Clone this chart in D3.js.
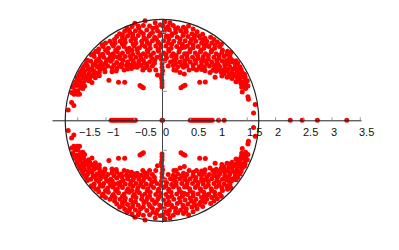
<!DOCTYPE html>
<html>
<head>
<meta charset="utf-8">
<script src="https://cdn.jsdelivr.net/npm/d3@7"></script>
<style>
  html, body { margin: 0; padding: 0; background: #fff; }
  svg { display: block; }
  text { font-family: "Liberation Sans", Arial, sans-serif; font-size: 11px; fill: #111; }
</style>
</head>
<body>
<svg id="chart" width="399" height="250"></svg>
<script>
const xTicks = [-1.5, -1, -0.5, 0.5, 1, 1.5, 2, 2.5, 3, 3.5];
const xLabelValues = [-1.5, -1, -0.5, 0, 0.5, 1, 1.5, 2, 2.5, 3, 3.5];
const yTicks = [-1.5, -1, -0.5, 0.5, 1, 1.5];
const circleRadius = 1.713;

// eigenvalues on the real line
const realPoints = [
  -0.9, -0.87, -0.84, -0.81, -0.78, -0.74, -0.71, -0.68, -0.65, -0.62, -0.58, -0.55, -0.52, -0.49, -0.47,
  0, 0.01, 0.5, 0.53, 0.56, 0.59, 0.62, 0.65, 0.68, 0.71, 0.74, 0.77, 0.8, 0.83, 0.86, 0.89, 1.0, 1.1,
  2.27, 2.48, 2.75, 3.27
];

// upper half plane, the lower half is the conjugate of these
const complexPoints = [
  [-0.48,1.645],[-0.30,1.69],[-0.12,1.655],[-0.03,1.62],[0.05,1.67],[0.14,1.655],
  [-0.62,1.56],[-0.53,1.59],[-0.41,1.57],[-0.33,1.61],[-0.22,1.60],[-0.10,1.58],[0.02,1.6],[0.11,1.59],[0.2,1.61],[0.28,1.57],[0.38,1.58],[0.47,1.6],[0.55,1.55],
  [-0.75,1.47],[-0.66,1.51],[-0.57,1.49],[-0.47,1.52],[-0.38,1.50],[-0.27,1.53],[-0.17,1.49],[-0.08,1.52],[0.04,1.5],[0.13,1.53],[0.24,1.49],[0.33,1.52],[0.43,1.5],[0.53,1.47],[0.62,1.5],[0.72,1.46],
  [-0.8,1.42],[-0.7,1.4],[-0.61,1.43],[-0.52,1.41],[-0.42,1.44],[-0.32,1.4],[-0.23,1.43],[-0.13,1.41],[-0.04,1.44],[0.07,1.42],[0.17,1.44],[0.27,1.41],[0.37,1.44],[0.46,1.42],[0.57,1.4],[0.66,1.43],[0.76,1.39],[0.86,1.41],
  [-1.0,1.31],[-0.92,1.34],[-0.83,1.31],[-0.74,1.34],[-0.65,1.32],[-0.55,1.35],[-0.46,1.31],[-0.36,1.34],[-0.26,1.32],[-0.17,1.35],[-0.07,1.33],[0.03,1.35],[0.11,1.31],[0.21,1.34],[0.31,1.32],[0.41,1.35],[0.5,1.32],[0.6,1.34],[0.7,1.31],[0.79,1.34],[0.88,1.31],[0.98,1.33],
  [-1.12,1.21],[-1.04,1.25],[-0.95,1.22],[-0.86,1.26],[-0.77,1.23],[-0.67,1.25],[-0.58,1.22],[-0.49,1.26],[-0.4,1.23],[-0.3,1.25],[-0.21,1.22],[-0.11,1.26],[-0.02,1.24],[0.07,1.26],[0.16,1.22],[0.26,1.25],[0.35,1.23],[0.45,1.26],[0.55,1.23],[0.64,1.25],[0.74,1.22],[0.83,1.25],[0.93,1.22],[1.02,1.25],
  [-1.21,1.13],[-1.13,1.16],[-1.05,1.12],[-0.96,1.15],[-0.87,1.13],[-0.79,1.16],[-0.7,1.14],[-0.6,1.16],[-0.52,1.12],[-0.43,1.15],[-0.33,1.13],[-0.25,1.16],[-0.15,1.14],[-0.06,1.17],[0.03,1.14],[0.12,1.17],[0.2,1.13],[0.3,1.16],[0.4,1.13],[0.49,1.16],[0.59,1.14],[0.68,1.16],[0.77,1.13],[0.87,1.16],[0.96,1.13],[1.06,1.15],[1.15,1.12],[1.22,1.15],
  [-1.2,1.08],[-1.12,1.04],[-1.03,1.07],[-0.93,1.05],[-0.84,1.08],[-0.74,1.05],[-0.65,1.08],[-0.55,1.04],[-0.46,1.07],[-0.37,1.05],[-0.28,1.08],[-0.18,1.05],[-0.09,1.07],[0.08,1.06],[0.17,1.09],[0.25,1.05],[0.35,1.07],[0.45,1.04],[0.54,1.07],[0.64,1.05],[0.73,1.08],[0.82,1.04],[0.92,1.07],[1.01,1.05],[1.1,1.08],[1.19,1.04],
  [-1.34,0.97],[-1.26,1.0],[-1.18,0.96],[-1.09,0.99],[-1.0,0.97],[-0.91,1.0],[-0.8,0.98],[-0.71,0.96],[-0.61,0.99],[-0.5,0.97],[-0.41,1.0],[-0.31,0.97],[-0.22,0.99],[-0.135,0.966],[0.11,0.92],[0.15,0.99],[0.24,0.97],[0.32,0.99],[0.41,0.96],[0.5,0.99],[0.6,0.97],[0.7,0.99],[0.79,0.96],[0.88,0.99],[0.98,0.97],[1.07,1.0],[1.16,0.96],[1.25,0.99],[1.34,0.97],
  [-1.4,0.89],[-1.32,0.92],[-1.24,0.88],[-1.15,0.91],[-1.06,0.89],[-0.96,0.92],[-0.885,0.89],[-0.72,0.91],[-0.63,0.93],[-0.54,0.88],[-0.44,0.9],[-0.37,0.93],[-0.26,0.91],[0.21,0.853],[0.28,0.91],[0.38,0.9],[0.48,0.853],[0.555,0.88],[0.66,0.91],[0.75,0.9],[0.84,0.92],[0.93,0.89],[1.02,0.91],[1.11,0.88],[1.2,0.91],[1.29,0.89],[1.38,0.91],
  [-1.45,0.81],[-1.37,0.84],[-1.29,0.8],[-1.2,0.83],[-1.11,0.81],[-1.01,0.825],[-0.885,0.825],[-0.81,0.836],[-0.67,0.853],[-0.61,0.87],[-0.34,0.853],[-0.22,0.853],[-0.11,0.853],[0.32,0.81],[0.395,0.785],[0.61,0.853],[0.76,0.84],[0.85,0.81],[0.96,0.83],[1.05,0.81],[1.14,0.84],[1.23,0.8],[1.33,0.83],[1.42,0.81],
  [-1.5,0.73],[-1.42,0.76],[-1.34,0.72],[-1.25,0.75],[-1.18,0.72],[-1.11,0.757],[-0.08,0.77],[0.94,0.73],[1.06,0.75],[1.15,0.73],[1.2,0.74],[1.3,0.75],[1.38,0.73],[1.47,0.74],
  [-1.53,0.65],[-1.46,0.68],[-1.39,0.64],[-1.3,0.67],[-1.24,0.64],[-0.94,0.68],[-0.77,0.645],[-0.66,0.645],[0.667,0.644],[0.767,0.65],[1.31,0.655],[1.38,0.66],[1.45,0.65],[1.51,0.67],
  [-1.58,0.56],[-1.51,0.59],[-1.44,0.55],[-1.37,0.58],[-0.39,0.59],[-0.36,0.57],[-0.33,0.55],[0.336,0.55],[0.372,0.576],[0.407,0.593],[1.41,0.56],[1.48,0.54],[1.52,0.58],
  [-1.6,0.47],[-1.56,0.44],[-1.5,0.44],[-1.46,0.44],[-1.54,0.5],[-1.49,0.5],[1.42,0.48],[1.52,0.4],[1.53,0.355],
  [-1.66,0.175],[-1.6,0.3],[-1.56,0.25],[1.65,0.27],[1.62,0.124],
  [0,0.57],[0,0.62],[0,0.67],[-0.01,0.72],[0,0.78],[0.01,0.84],[0,0.9],[0,0.96],[-0.01,1.03],
  [-0.9,1.09],[-0.62,1.2],[-0.35,1.28],[0.1,1.43],[0.4,1.24],[0.72,1.04],[1.0,0.93],[1.25,0.86],[-1.1,0.93],[-0.48,0.95],[0.44,1.09],[-1.3,0.87],[-1.38,0.78],[1.36,0.78],[1.18,0.97],[0.8,1.27],[-0.78,1.07]
];

// the denser points between the rows above
const densePoints = [
  [-0.58,1.53],[-0.42,1.6],[-0.16,1.56],[0.07,1.55],[0.24,1.55],[0.42,1.54],
  [-0.7,1.45],[-0.52,1.46],[-0.33,1.47],[-0.21,1.46],[-0.02,1.48],[0.18,1.47],[0.38,1.47],[0.58,1.44],[0.68,1.39],
  [-0.84,1.37],[-0.66,1.37],[-0.47,1.38],[-0.28,1.37],[-0.1,1.38],[0.12,1.38],[0.32,1.38],[0.52,1.37],[0.73,1.36],[0.92,1.37],
  [-1.06,1.28],[-0.88,1.29],[-0.7,1.29],[-0.51,1.29],[-0.22,1.29],[-0.03,1.29],[0.17,1.29],[0.36,1.29],[0.55,1.28],[0.75,1.28],[0.94,1.28],[1.05,1.29],
  [-1.17,1.17],[-1.0,1.19],[-0.82,1.19],[-0.53,1.19],[-0.44,1.2],[-0.26,1.19],[-0.07,1.2],[0.12,1.2],[0.31,1.2],[0.5,1.2],[0.69,1.19],[0.88,1.19],[1.07,1.19],[1.16,1.17],
  [-1.25,1.11],[-1.09,1.1],[-0.91,1.1],[-0.74,1.1],[-0.56,1.09],[-0.38,1.1],[-0.2,1.1],[-0.02,1.1],[0.07,1.11],[0.25,1.1],[0.44,1.13],[0.63,1.1],[0.82,1.1],[1.01,1.1],[1.2,1.09],
  [-1.32,1.02],[-1.16,1.01],[-0.98,1.02],[-0.88,1.03],[-0.69,1.02],[-0.51,1.01],[-0.33,1.02],[-0.13,1.02],[0.05,1.01],[0.21,1.02],[0.4,1.01],[0.59,1.02],[0.78,1.01],[0.97,1.02],[1.14,1.01],[1.31,1.01],[1.23,1.03],
  [-1.37,0.93],[-1.22,0.94],[-1.04,0.94],[-0.85,0.94],[-0.75,0.93],[-0.56,0.94],[-0.4,0.95],[-0.27,0.95],[-0.17,0.92],[0.2,0.93],[0.35,0.94],[0.55,0.94],[0.7,0.93],[0.92,0.94],[1.11,0.94],[1.3,0.94],[1.4,0.86],
  [-1.42,0.85],[-1.27,0.85],[-1.1,0.86],[-1.02,0.87],[-0.8,0.88],[-0.49,0.91],[-0.3,0.89],[0.25,0.85],[0.44,0.92],[0.7,0.86],[0.9,0.85],[1.0,0.86],[1.08,0.85],[1.17,0.86],[1.33,0.87],[1.46,0.78],
  [-1.47,0.77],[-1.4,0.72],[-1.3,0.77],[-1.21,0.78],[-1.16,0.8],[1.1,0.79],[1.19,0.79],[1.27,0.78],[1.37,0.69],[1.42,0.74],[1.24,0.71],[1.34,0.71],
  [-1.5,0.69],[-1.43,0.62],[-1.36,0.69],[-1.28,0.71],[-1.48,0.61],[1.44,0.6],[1.47,0.7],[1.4,0.62],[-1.55,0.6],[-1.4,0.54],[1.48,0.61]
];

const x = d3.scaleLinear().domain([-1.947, 3.522]).range([52, 361]);
const y = d3.scaleLinear().domain([-1.73, 1.73]).range([222.3, 18.3]);
const labelX = d3.scaleLinear().domain([-1.5, 3.5]).range([79, 359]);

const svg = d3.select("#chart");

const upperPoints = complexPoints.concat(densePoints);
const allPoints = upperPoints
  .concat(upperPoints.map(d => [d[0], -d[1]]))
  .concat(realPoints.map(d => [d, 0]));

svg.append("g").selectAll("circle")
  .data(allPoints)
  .join("circle")
  .attr("cx", d => x(d[0]))
  .attr("cy", d => y(d[1]))
  .attr("r", 2.5)
  .attr("fill", "#ff0000");

svg.append("ellipse")
  .attr("cx", x(0))
  .attr("cy", y(0))
  .attr("rx", x(circleRadius) - x(0))
  .attr("ry", y(0) - y(circleRadius))
  .attr("fill", "none")
  .attr("stroke", "#222")
  .attr("stroke-width", 1.2);

const xAxis = svg.append("g")
  .attr("transform", `translate(0,${y(0)})`)
  .call(d3.axisTop(x).tickValues(xTicks).tickSize(3).tickSizeOuter(0).tickFormat(""));
xAxis.select(".domain").attr("stroke", "#222");
xAxis.selectAll(".tick line").attr("stroke", "#999");

const yAxis = svg.append("g")
  .attr("transform", `translate(${x(0)},0)`)
  .call(d3.axisRight(y).tickValues(yTicks).tickSize(5).tickSizeOuter(0).tickFormat(""));
yAxis.select(".domain").attr("stroke", "#444");
yAxis.selectAll(".tick line").attr("stroke", "#999");

svg.append("g").selectAll("text")
  .data(xLabelValues)
  .join("text")
  .attr("x", d => labelX(d))
  .attr("y", 136)
  .text(d => (d < 0 ? "\u2212" + Math.abs(d) : d));
</script>
</body>
</html>
